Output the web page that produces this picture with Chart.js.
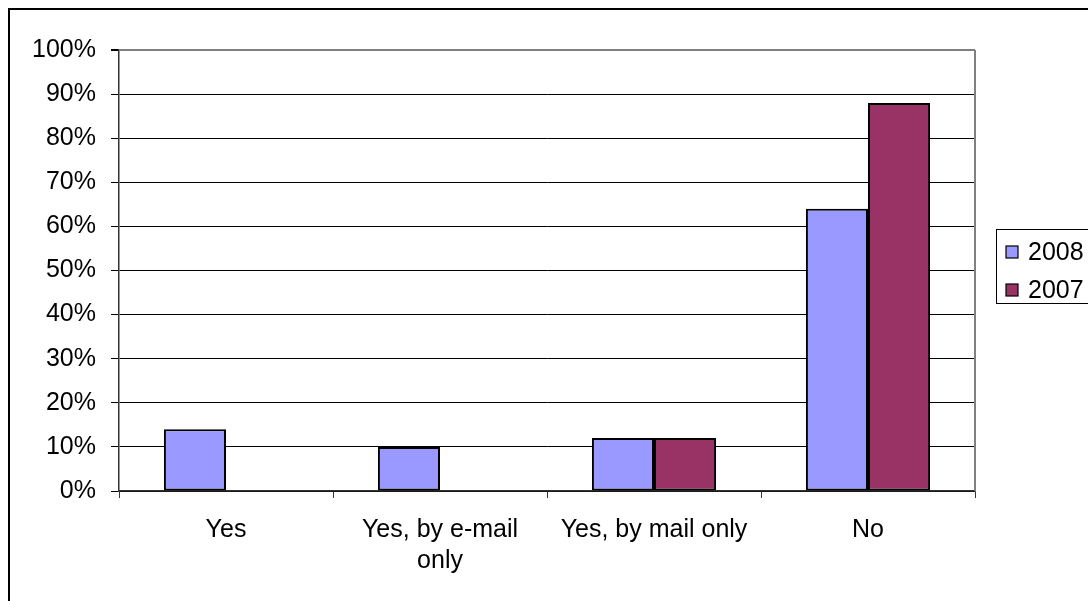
<!DOCTYPE html>
<html>
<head>
<meta charset="utf-8">
<script src="https://cdn.jsdelivr.net/npm/chart.js@4/dist/chart.umd.min.js"></script>
<style>
  html, body { margin: 0; padding: 0; background: #fff; overflow: hidden; }
  #wrap { position: absolute; left: 0; top: 0; width: 1100px; height: 612px; }
</style>
</head>
<body>
<div id="wrap"><canvas id="c" width="1100" height="612"></canvas></div>
<script>
// Survey answers, share of respondents (%)
const categories = ['Yes', ['Yes, by e-mail', 'only'], 'Yes, by mail only', 'No'];
const seriesNames = ['2008', '2007'];
const values2008 = [14, 10, 12, 64];
const values2007 = [null, null, 12, 88];
const yTicks = [0, 10, 20, 30, 40, 50, 60, 70, 80, 90, 100];

const colors = ['#9999FF', '#993366'];
const FONT = "'Liberation Sans', Arial, sans-serif";
const FONT_SIZE = 25;

// Frame around the whole chart, gray plot border and a boxed legend
const framePlugin = {
  id: 'frame',
  beforeDatasetsDraw(chart) {
    const { ctx, chartArea: a } = chart;
    ctx.save();
    ctx.strokeStyle = '#808080';
    ctx.lineWidth = 2;
    ctx.beginPath();
    ctx.moveTo(a.left, a.top);
    ctx.lineTo(a.right, a.top);
    ctx.moveTo(a.right, a.top);
    ctx.lineTo(a.right, a.bottom);
    ctx.stroke();
    ctx.restore();
  },
  afterDraw(chart) {
    const { ctx, chartArea: a } = chart;
    ctx.save();
    // outer frame
    ctx.strokeStyle = '#000';
    ctx.lineWidth = 2;
    ctx.strokeRect(9, 9, 1082, 596);

    // legend
    const mid = (a.top + a.bottom) / 2;
    const boxLeft = a.right + 21;
    const boxTop = mid - 41.5;
    ctx.strokeStyle = '#000';
    ctx.lineWidth = 1;
    ctx.strokeRect(boxLeft + 0.5, boxTop + 0.5, 120, 74);
    ctx.font = FONT_SIZE + 'px ' + FONT;
    ctx.textBaseline = 'middle';
    ctx.textAlign = 'left';
    chart.data.datasets.forEach((ds, i) => {
      const cy = mid - 18.5 + i * 38;
      ctx.fillStyle = ds.backgroundColor;
      ctx.fillRect(boxLeft + 10, cy - 6, 12, 12);
      ctx.strokeStyle = '#000';
      ctx.lineWidth = 1.2;
      ctx.strokeRect(boxLeft + 10, cy - 6, 12, 12);
      ctx.fillStyle = '#000';
      ctx.fillText(ds.label, boxLeft + 32, cy + 1);
    });
    ctx.restore();
  }
};

new Chart(document.getElementById('c'), {
  type: 'bar',
  data: {
    labels: categories,
    datasets: [
      { label: seriesNames[0], data: values2008, backgroundColor: colors[0] },
      { label: seriesNames[1], data: values2007, backgroundColor: colors[1] }
    ]
  },
  options: {
    responsive: false,
    animation: false,
    devicePixelRatio: 1,
    layout: { padding: { left: 0, top: 50, right: 125, bottom: 0 } },
    datasets: {
      bar: {
        categoryPercentage: 0.58,
        barPercentage: 1,
        borderColor: '#000',
        borderWidth: 2,
        borderSkipped: false
      }
    },
    plugins: {
      legend: { display: false },
      tooltip: { enabled: false }
    },
    scales: {
      x: {
        afterFit(scale) { scale.height = 121; },
        grid: {
          display: true,
          offset: true,
          drawOnChartArea: false,
          drawTicks: true,
          tickLength: 7,
          color: '#333'
        },
        border: { color: '#333', width: 1.5 },
        ticks: {
          autoSkip: false,
          maxRotation: 0,
          minRotation: 0,
          padding: 16,
          color: '#000',
          font: { family: FONT, size: FONT_SIZE, lineHeight: 1.25 }
        }
      },
      y: {
        min: 0,
        max: 100,
        afterFit(scale) { scale.width = 119; },
        afterBuildTicks(scale) { scale.ticks = yTicks.map(v => ({ value: v })); },
        grid: {
          color: ctx => (ctx.tick && ctx.tick.value === 100 ? '#808080' : '#000'),
          lineWidth: ctx => (ctx.tick && ctx.tick.value === 100 ? 2 : 1),
          tickColor: '#000',
          tickLength: 8
        },
        border: { color: '#333', width: 1.5 },
        ticks: {
          padding: 15,
          color: '#000',
          font: { family: FONT, size: FONT_SIZE },
          callback: v => v + '%'
        }
      }
    }
  },
  plugins: [framePlugin]
});
</script>
</body>
</html>
